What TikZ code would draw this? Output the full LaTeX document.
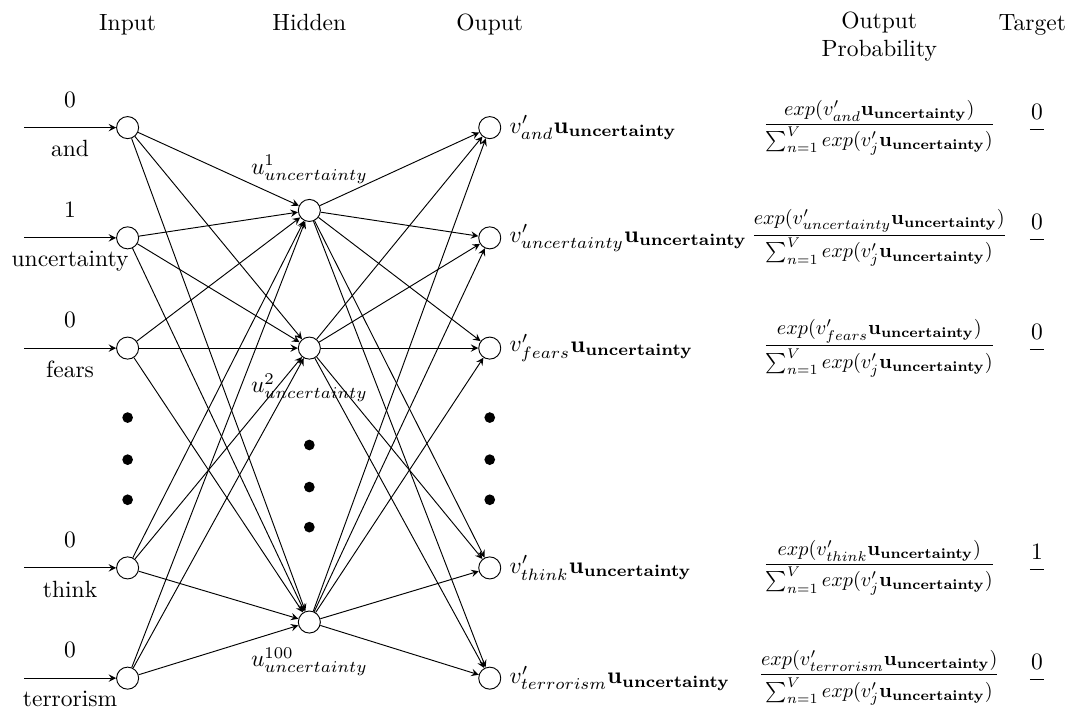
\documentclass[tikz,border=0pt]{standalone}
\usepackage{amssymb,amsfonts,amsmath}
\usepackage{tikz}

\begin{document}
\begin{tikzpicture}[>=stealth]
    \tikzstyle{neuron}=[circle, draw, minimum size=0.33cm, inner sep=0pt]
    \tikzstyle{title}=[anchor=base]
    \useasboundingbox (0,0) rectangle (16.06,10.67);
    % column titles
    \node[title] (tin) at (1.91,10.22) {Input};
    \node[title] (thid) at (4.63,10.22) {Hidden};
    \node[title] (tout) at (7.33,10.22) {Ouput};
    \node[align=center] (tprob) at (13.16,10.12) {Output\\Probability};
    \node[title] (ttar) at (15.45,10.22) {Target};
    % input and output layers
    \foreach \n/\y/\v/\w/\t in {1/8.76/0/and/0, 2/7.11/1/uncertainty/0,
        3/5.46/0/fears/0, 4/2.17/0/think/1, 5/0.52/0/terrorism/0} {
      \node[neuron] (i\n) at (1.91,\y) {};
      \coordinate (a\n) at (0.36,\y);
      \draw[->] (a\n) -- (i\n) node[midway,above=5pt]{\v} node[midway,below=2pt]{\w};
      \node[neuron] (o\n) at (7.33,\y) {};
      \node[right] (l\n) at (o\n.east) {$v'_{\w}\mathbf{u}_{\mathbf{uncertainty}}$};
      \node[scale=0.86] (p\n) at (13.16,\y)
        {$\dfrac{exp(v'_{\w}\mathbf{u}_{\mathbf{uncertainty}})}{\sum_{n=1}^{V} exp(v'_j\mathbf{u}_{\mathbf{uncertainty}})}$};
      \node (t\n) at (15.52,\y) {$\dfrac{\t}{\hspace{6pt}}$};
    }
    % hidden layer
    \node[neuron] (h1) at (4.63,7.52) {};
    \node[neuron] (h2) at (4.63,5.46) {};
    \node[neuron] (h3) at (4.63,1.36) {};
    \node[above=3pt] (u1) at (h1.north) {$u^{1}_{uncertainty}$};
    \node[below=2.4pt] (u2) at (h2.south) {$u^{2}_{uncertainty}$};
    \node[below=2.4pt] (u3) at (h3.south) {$u^{100}_{uncertainty}$};
    % dots
    \foreach \y in {4.42,3.79,3.19} {
      \fill (1.91,\y) circle (0.08);
      \fill (7.33,\y) circle (0.08);
    }
    \foreach \y in {4.01,3.38,2.78}
      \fill (4.63,\y) circle (0.08);
    % weights
    \foreach \i in {1,...,5}
      \foreach \h in {1,2,3} {
        \draw[->] (i\i) -- (h\h);
        \draw[->] (h\h) -- (o\i);
      }
\end{tikzpicture}
\end{document}
